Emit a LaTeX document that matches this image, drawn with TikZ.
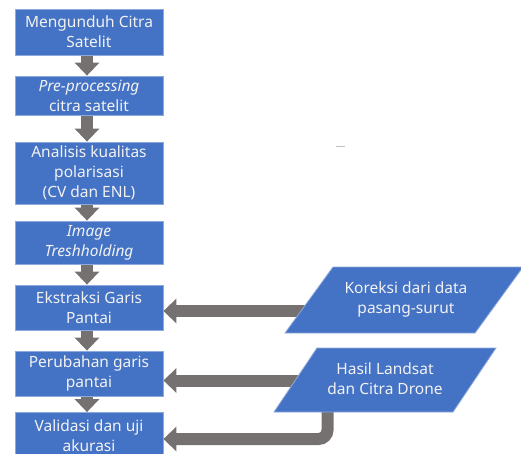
\documentclass[tikz,border=0pt]{standalone}
\usepackage{fontspec}
\setmainfont{Noto Sans}
\usetikzlibrary{arrows.meta,backgrounds}
\definecolor{boxblue}{HTML}{4472C4}
\definecolor{boxedge}{HTML}{8EA9DB}
\definecolor{arrgray}{HTML}{767171}
\definecolor{txt}{HTML}{F2F2F2}
\begin{document}
\begin{tikzpicture}[x=1pt,y=-1pt,
  stepbox/.style={draw=boxedge, line width=0.8pt, fill=boxblue, minimum width=148pt, inner sep=0pt, text=txt, align=center, font=\fontsize{15.5}{20}\selectfont},
  datatext/.style={text=txt, align=center, inner sep=0pt, font=\fontsize{15.5}{20}\selectfont},
  para/.style={draw=boxedge, line width=0.8pt, fill=boxblue},
  bigarrow/.style={draw=arrgray, line width=12pt, -{Triangle[width=24pt,length=13pt]}},
]
\useasboundingbox (0,0) rectangle (521,454);
\node[stepbox, minimum height=46pt] (b1) at (89,32) {Mengunduh Citra\\Satelit};
\node[stepbox, minimum height=39pt] (b2) at (89,95.5) {\textit{Pre-processing}\\citra satelit};
\node[stepbox, minimum height=62pt] (b3) at (89,173) {Analisis kualitas\\polarisasi\\(CV dan ENL)};
\node[stepbox, minimum height=43pt] (b4) at (89,242.5) {\textit{Image}\\\textit{Treshholding}};
\node[stepbox, minimum height=45pt] (b5) at (89,307.5) {Ekstraksi Garis\\Pantai};
\node[stepbox, minimum height=45pt] (b6) at (89,373.5) {Perubahan garis\\pantai};
\node[stepbox, minimum height=47pt] (b7) at (89,436) {Validasi dan uji\\akurasi};
\path[para] (333,267) -- (523,267) -- (475,333) -- (285,333) -- cycle;
\path[para] (317,348) -- (496,348) -- (453,412) -- (274,412) -- cycle;
\node[datatext] (p1) at (406,299) {Koreksi dari data\\pasang-surut};
\node[datatext] (p2) at (385,379) {Hasil Landsat\\dan Citra Drone};
\coordinate (a5) at ([yshift=-3.5pt]b5.east);
\coordinate (a6) at ([yshift=-7pt]b6.east);
\coordinate (a7) at ([yshift=-3pt]b7.east);
\coordinate (s3) at ([xshift=-57.5pt]p2.center);
\begin{scope}[on background layer]
\draw[bigarrow] ([xshift=-2pt]b1.south) -- ([xshift=-2pt]b2.north);
\draw[bigarrow] ([xshift=-2pt]b2.south) -- ([xshift=-2pt]b3.north);
\draw[bigarrow] ([xshift=-2pt]b3.south) -- ([xshift=-2pt]b4.north);
\draw[bigarrow] ([xshift=-2pt]b4.south) -- ([xshift=-2pt]b5.north);
\draw[bigarrow] ([xshift=-2pt]b5.south) -- ([xshift=-2pt]b6.north);
\draw[bigarrow] ([xshift=-2pt]b6.south) -- ([xshift=-2pt]b7.north);
\draw[bigarrow] (a5 -| p1.center) -- (a5);
\draw[bigarrow] (a6 -| p2.center) -- (a6);
\draw[bigarrow, rounded corners=9pt] (s3) |- (a7);
\end{scope}
\draw[gray!50, line width=1pt] (336,146.5) -- (345,146.5);
\end{tikzpicture}
\end{document}
